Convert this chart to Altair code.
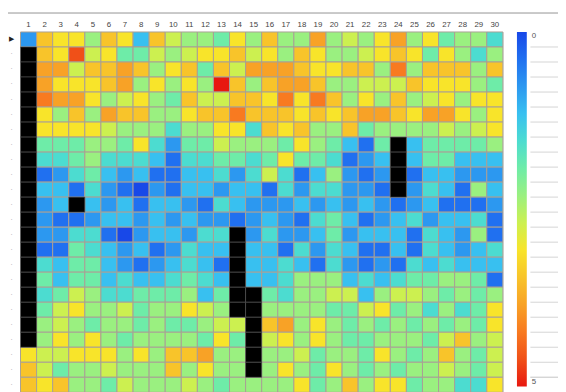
import altair as alt
import pandas as pd

N = None
columns = list(range(1, 31))

row_00 = [2, 9, 8, 8, 6, 9, 8, 3, 9, 7, 6, 6, 5, 8, 6, 9, 6, 6, 10, 6, 7, 6, 8, 10, 6, 8, 5, 6, 6, 4]
row_01 = [N, 9, 8, 12, 7, 8, 5, 5, 7, 6, 7, 8, 8, 9, 7, 8, 6, 9, 8, 6, 6, 7, 8, 9, 8, 5, 8, 6, 4, 6]
row_02 = [N, 10, 10, 7, 9, 9, 10, 9, 6, 8, 9, 5, 9, 7, 10, 10, 10, 9, 8, 8, 9, 9, 6, 11, 6, 9, 9, 9, 6, 9]
row_03 = [N, 10, 8, 8, 8, 9, 10, 6, 8, 6, 8, 6, 13, 9, 6, 9, 10, 10, 9, 6, 6, 7, 7, 7, 9, 8, 8, 8, 6, 5]
row_04 = [N, 11, 10, 10, 8, 6, 7, 8, 6, 5, 9, 7, 7, 9, 9, 8, 11, 8, 11, 9, 6, 8, 6, 9, 6, 7, 8, 6, 8, 8]
row_05 = [N, 8, 6, 9, 6, 10, 9, 9, 6, 6, 8, 9, 9, 11, 9, 9, 9, 8, 9, 8, 9, 10, 10, 9, 8, 10, 10, 8, 6, 8]
row_06 = [N, 8, 8, 8, 8, 7, 6, 6, 6, 4, 6, 6, 8, 8, 4, 9, 8, 9, 6, 6, 9, 5, 6, 6, 6, 6, 7, 6, 7, 8]
row_07 = [N, 5, 5, 5, 6, 6, 5, 8, 4, 2, 5, 5, 7, 6, 6, 6, 5, 8, 6, 5, 3, 1, 5, N, 3, 5, 5, 5, 5, 6]
row_08 = [N, 4, 4, 5, 6, 4, 4, 4, 3, 1, 4, 4, 5, 5, 4, 5, 8, 5, 5, 4, 1, 2, 3, N, 3, 5, 5, 3, 3, 3]
row_09 = [N, 1, 2, 4, 5, 3, 2, 3, 1, 1, 3, 3, 4, 2, 4, 7, 4, 1, 3, 6, 2, 1, 2, N, 1, 3, 3, 2, 2, 2]
row_10 = [N, 3, 3, 1, 4, 2, 1, 0, 2, 1, 3, 3, 2, 3, 3, 1, 4, 2, 4, 4, 2, 2, 1, N, 2, 4, 3, 1, 6, 3]
row_11 = [N, 2, 3, N, 3, 2, 3, 1, 3, 3, 2, 1, 4, 3, 2, 2, 2, 3, 2, 3, 2, 3, 2, 1, 2, 3, 1, 1, 1, 2]
row_12 = [N, 2, 1, 1, 2, 3, 3, 2, 3, 2, 3, 2, 2, 1, 2, 3, 2, 1, 4, 5, 3, 1, 2, 3, 4, 2, 3, 3, 4, 1]
row_13 = [N, 2, 2, 4, 4, 1, 0, 2, 3, 3, 2, 4, 4, N, 2, 4, 2, 2, 3, 5, 2, 3, 3, 3, 1, 4, 3, 2, 6, 1]
row_14 = [N, 1, 1, 5, 4, 3, 2, 3, 1, 2, 4, 3, 3, N, 3, 3, 1, 4, 2, 4, 3, 1, 1, 3, 1, 4, 3, 2, 3, 4]
row_15 = [N, 4, 3, 5, 5, 3, 2, 1, 2, 3, 4, 3, 1, N, 3, 3, 4, 3, 1, 4, 2, 1, 2, 1, 4, 3, 4, 3, 3, 3]
row_16 = [N, 5, 3, 5, 5, 3, 4, 3, 3, 4, 5, 4, 3, N, 3, 3, 4, 6, 6, 6, 3, 4, 3, 4, 5, 5, 6, 6, 5, 1]
row_17 = [N, 4, 5, 7, 6, 4, 4, 5, 5, 5, 6, 3, 5, N, N, 5, 4, 6, 6, 7, 7, 3, 6, 7, 7, 6, 5, 6, 5, 6]
row_18 = [N, 5, 7, 8, 6, 6, 7, 5, 6, 6, 8, 7, 6, N, N, 6, 6, 6, 6, 5, 5, 7, 8, 5, 6, 4, 6, 4, 5, 8]
row_19 = [N, 6, 7, 6, 5, 6, 6, 5, 6, 5, 5, 6, 7, 7, N, 9, 10, 6, 8, 6, 5, 6, 5, 6, 5, 6, 5, 6, 5, 8]
row_20 = [N, 6, 8, 6, 8, 6, 5, 6, 6, 6, 6, 5, 8, 5, N, 7, 8, 6, 8, 6, 5, 5, 6, 6, 6, 5, 7, 9, 6, 7]
row_21 = [8, 7, 7, 8, 8, 8, 6, 8, 6, 9, 9, 10, 6, 6, N, 6, 6, 7, 5, 6, 6, 5, 8, 6, 5, 6, 9, 6, 5, 7]
row_22 = [9, 7, 5, 6, 6, 7, 6, 6, 6, 9, 6, 8, 6, 6, N, 6, 8, 6, 5, 8, 6, 5, 6, 5, 6, 6, 7, 6, 5, 7]
row_23 = [9, 8, 9, 6, 6, 5, 7, 6, 6, 6, 7, 6, 5, 6, 6, 6, 6, 8, 5, 6, 9, 6, 8, 8, 5, 6, 6, 4, 4, 8]

rows = [row_00, row_01, row_02, row_03, row_04, row_05, row_06, row_07,
        row_08, row_09, row_10, row_11, row_12, row_13, row_14, row_15,
        row_16, row_17, row_18, row_19, row_20, row_21, row_22, row_23]

levels = list(range(14))
palette = ["#1848e8", "#2070f0", "#2c98f0", "#38c0f0", "#4cdcd0", "#6eeca8",
           "#9af080", "#ccf050", "#f8e42a", "#f8c42a", "#f8a226", "#f87a20",
           "#f05018", "#e81810"]
legend_labels = ["0", "5"]

records = []
for r, vals in enumerate(rows):
    for c, v in zip(columns, vals):
        records.append({"col": c, "row": r, "v": v, "miss": v is None})
df = pd.DataFrame(records)

row_ids = list(range(len(rows)))
marks_df = pd.DataFrame({"row": row_ids,
                         "sym": ["\u25b6" if r == 0 else "\u00b7" for r in row_ids],
                         "first": [r == 0 for r in row_ids]})
bound_df = pd.DataFrame({"row": row_ids[1:] + [row_ids[-1]]})

W = 490
H = 366

x_enc = alt.X("col:O", scale=alt.Scale(paddingInner=0, paddingOuter=0),
              axis=alt.Axis(orient="top", title=None, domain=False, ticks=False,
                            labelAngle=0, labelFontSize=8, labelColor="#444444",
                            labelFont="Liberation Sans", labelPadding=4))
y_enc = alt.Y("row:O", scale=alt.Scale(paddingInner=0, paddingOuter=0, domain=row_ids),
              axis=None)

cells = alt.Chart(df).transform_filter("!datum.miss").mark_rect(
    stroke="#a9a094", strokeWidth=1
).encode(
    x=x_enc,
    y=y_enc,
    color=alt.Color(
        "v:Q",
        scale=alt.Scale(type="linear", domain=levels[::-1], range=palette[::-1]),
        legend=alt.Legend(
            orient="none", legendX=504.3, legendY=0, direction="vertical",
            gradientLength=360, gradientThickness=10, gradientStrokeWidth=0,
            title=None, padding=0, values=[levels[0], levels[-1]],
            labelExpr=f"datum.value == 0 ? '{legend_labels[0]}' : '{legend_labels[1]}'",
            labelFontSize=8, labelColor="#555555", labelFont="Liberation Sans",
            labelOffset=5,
        ),
    ),
)

missing = alt.Chart(df).transform_filter("datum.miss").mark_rect(
    stroke="#555555", strokeWidth=0.6, fill="#000000"
).encode(x=x_enc, y=y_enc)

side_rules = alt.Chart(bound_df).mark_rule(color="#d4d4d4", strokeWidth=1).encode(
    y=alt.Y("row:O", bandPosition=0, scale=alt.Scale(paddingInner=0, paddingOuter=0, domain=row_ids), axis=None),
    x=alt.value(518), x2=alt.value(552),
)

top_rule = alt.Chart(marks_df).mark_rule(color="#c8c8c8", strokeWidth=1).encode(
    y=alt.value(-19), x=alt.value(-21), x2=alt.value(552),
)

row_marks = alt.Chart(marks_df).mark_text(
    fontSize=7, font="DejaVu Sans", align="center", baseline="middle"
).encode(
    y=alt.Y("row:O", scale=alt.Scale(paddingInner=0, paddingOuter=0, domain=row_ids), axis=None),
    x=alt.value(-9),
    text="sym:N",
    color=alt.condition("datum.first", alt.value("#222222"), alt.value("#aaaaaa")),
)

chart = alt.layer(top_rule, side_rules, cells, missing, row_marks).properties(
    width=W, height=H,
    autosize=alt.AutoSizeParams(type="none"),
    padding={"left": 12.7, "top": 21.3, "right": 56, "bottom": 0},
).configure_view(stroke=None).configure(background="white")

chart.save("out.html", embed_options={"renderer": "svg", "actions": False})
